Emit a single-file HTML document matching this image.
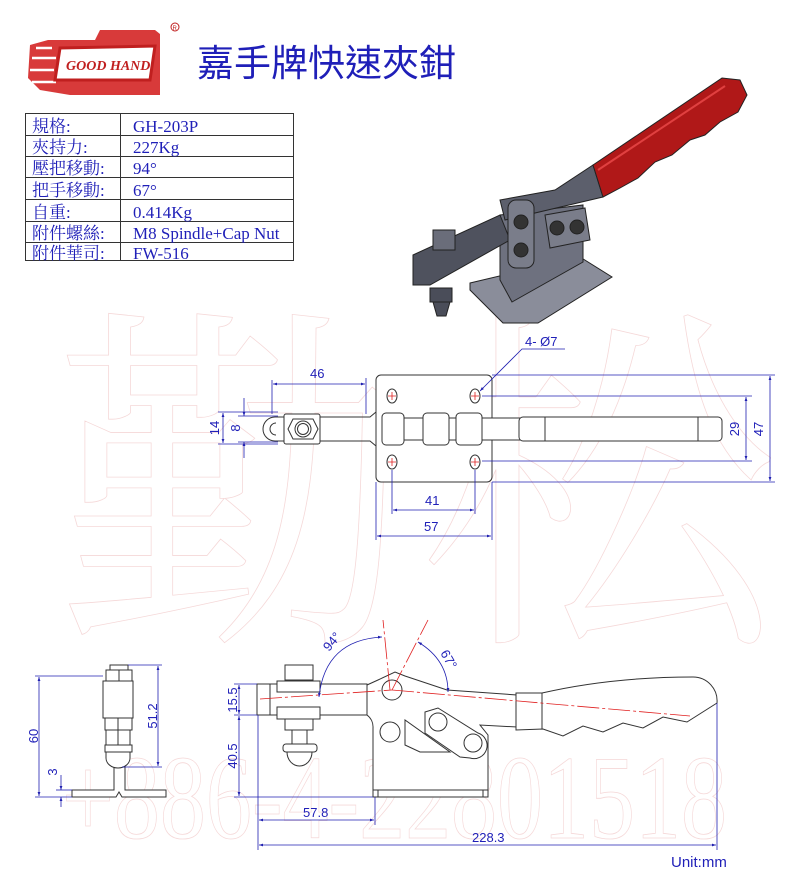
<!DOCTYPE html>
<html><head><meta charset="utf-8"><style>
html,body{margin:0;padding:0;background:#fff;}
svg{display:block;}
</style></head><body>
<svg width="800" height="891" viewBox="0 0 800 891" xmlns="http://www.w3.org/2000/svg">
<defs>
<marker id="a" viewBox="0 0 10 10" refX="10" refY="5" markerWidth="7" markerHeight="5" orient="auto-start-reverse"><path d="M0,1.5 L10,5 L0,8.5z" fill="#1f1fb0"/></marker>
</defs>
<rect width="800" height="891" fill="#fff"/>
<!-- watermarks -->
<g fill="none" stroke="#f5d8d8" stroke-width="0.8" font-family="'Noto Serif CJK SC','Liberation Serif',serif">
<text x="55" y="615" font-size="360">勤</text>
<text x="420" y="615" font-size="360">松</text>
</g>
<text x="62" y="838" font-size="120" textLength="665" lengthAdjust="spacingAndGlyphs" fill="none" stroke="#f5d8d8" stroke-width="0.8" font-family="'Liberation Serif',serif">+886-4-22801518</text>

<!-- logo -->
<g>
<path d="M30,45 L48,40 L95,40 L100,30 L155,30 L160,34 L160,95 L70,95 L40,90 L28,78 Z" fill="#d83a3a"/>
<path d="M36,48 L52,48 M32,58 L56,58 M30,70 L54,70 M32,82 L56,82" stroke="#fff" stroke-width="2.5"/>
<path d="M60,48 L155,46 L150,80 L55,80 Z" fill="#fff" stroke="#c01f1f" stroke-width="3"/>
<text x="66" y="70" font-family="'Liberation Serif',serif" font-style="italic" font-weight="bold" font-size="14" fill="#c01f1f">GOOD HAND</text>
<circle cx="175" cy="27" r="4" fill="none" stroke="#c01f1f" stroke-width="1"/>
<text x="172.5" y="30" font-size="6" fill="#c01f1f" font-family="'Liberation Sans',sans-serif">R</text>
</g>
<text x="197" y="76" font-size="37" fill="#1f1fb8" font-family="'Liberation Sans','Noto Sans CJK TC',sans-serif">嘉手牌快速夾鉗</text>

<!-- table -->
<g stroke="#333" stroke-width="1" fill="none">
<rect x="25.5" y="113.5" width="268" height="147"/>
<line x1="120.5" y1="113" x2="120.5" y2="261"/>
<line x1="25" y1="135.5" x2="293" y2="135.5"/>
<line x1="25" y1="156.5" x2="293" y2="156.5"/>
<line x1="25" y1="177.5" x2="293" y2="177.5"/>
<line x1="25" y1="199.5" x2="293" y2="199.5"/>
<line x1="25" y1="221.5" x2="293" y2="221.5"/>
<line x1="25" y1="242.5" x2="293" y2="242.5"/>
</g>
<g font-size="17" fill="#1f1fb8" font-family="'Liberation Serif','Noto Serif CJK TC',serif">
<text x="32" y="132">規格:</text><text x="133" y="132">GH-203P</text>
<text x="32" y="153">夾持力:</text><text x="133" y="153">227Kg</text>
<text x="32" y="174">壓把移動:</text><text x="133" y="174">94°</text>
<text x="32" y="196">把手移動:</text><text x="133" y="196">67°</text>
<text x="32" y="218">自重:</text><text x="133" y="218">0.414Kg</text>
<text x="32" y="239">附件螺絲:</text><text x="133" y="239">M8 Spindle+Cap Nut</text>
<text x="32" y="259">附件華司:</text><text x="133" y="259">FW-516</text>
</g>

<!-- 3D render -->
<g stroke="#222" stroke-width="1">
<path d="M470,283 L580,257 L612,277 L538,323 L503,323 L470,290Z" fill="#8a8d9a"/>
<path d="M500,215 L583,205 L583,262 L512,302 L500,280Z" fill="#6e717f"/>
<path d="M500,200 L555,190 L593,165 L603,197 L535,213 L505,220Z" fill="#5c5f6c"/>
<path d="M593,165 L722,78 L740,80 L747,95 L738,112 L720,122 L705,135 L690,140 L672,155 L655,162 L638,178 L620,188 L603,197Z" fill="#b01818"/>
<path d="M598,170 L725,86" stroke="#e04040" stroke-width="2"/>
<path d="M413,255 L500,215 L510,240 L430,285 L413,285Z" fill="#4f525e"/>
<rect x="508" y="200" width="26" height="68" rx="8" fill="#7a7d8a"/>
<circle cx="521" cy="222" r="7" fill="#333"/><circle cx="521" cy="250" r="7" fill="#333"/>
<path d="M545,215 L585,208 L590,240 L550,248Z" fill="#7a7d8a"/>
<circle cx="557" cy="228" r="7" fill="#333"/><circle cx="577" cy="227" r="7" fill="#333"/>
<rect x="433" y="230" width="22" height="20" fill="#6a6d7a"/>
<rect x="430" y="288" width="22" height="14" fill="#4a4d59"/>
<path d="M433,302 L450,302 L446,316 L437,316Z" fill="#4a4d59"/>
</g>

<!-- TOP VIEW -->
<g stroke="#333" stroke-width="1" fill="none">
<rect x="376" y="375" width="116" height="107" rx="5" fill="#fff"/>
<path d="M275,417 L370,417 L376,412 M275,441 L370,441 L376,446"/>
<path d="M275,417 A12,12 0 0 0 275,441"/>
<path d="M276,423 A6,6 0 0 0 276,435"/>
<rect x="284" y="414" width="36" height="30" rx="2" fill="#fff"/>
<polygon points="293,419 313,419 318,429 313,439 293,439 288,429" fill="#fff"/>
<circle cx="303" cy="429" r="8"/><circle cx="303" cy="429" r="5.5"/>
<rect x="382" y="418" width="140" height="22" fill="#fff"/>
<rect x="382" y="413" width="22" height="32" rx="4" fill="#fff"/>
<rect x="423" y="413" width="26" height="32" rx="4" fill="#fff"/>
<rect x="456" y="413" width="26" height="32" rx="4" fill="#fff"/>
<rect x="519" y="417" width="203" height="24" rx="4" fill="#fff"/>
<line x1="545" y1="417" x2="545" y2="441"/><line x1="698" y1="417" x2="698" y2="441"/>
</g>
<g fill="none" stroke="#333" stroke-width="1">
<ellipse cx="392" cy="396" rx="5" ry="7"/><ellipse cx="475" cy="396" rx="5" ry="7"/>
<ellipse cx="392" cy="462" rx="5" ry="7"/><ellipse cx="475" cy="462" rx="5" ry="7"/>
</g>
<g stroke="#e02020" stroke-width="0.8">
<path d="M388,396h8M392,392v8M471,396h8M475,392v8M388,462h8M392,458v8M471,462h8M475,458v8"/>
</g>
<g stroke="#1f1fb0" stroke-width="0.8" fill="none">
<line x1="272" y1="380" x2="272" y2="414"/><line x1="366" y1="378" x2="366" y2="414"/>
<line x1="273" y1="384" x2="365" y2="384" marker-start="url(#a)" marker-end="url(#a)"/>
<line x1="218" y1="412" x2="278" y2="412"/><line x1="218" y1="444" x2="278" y2="444"/>
<line x1="223" y1="413" x2="223" y2="443" marker-start="url(#a)" marker-end="url(#a)"/>
<line x1="244" y1="398" x2="244" y2="416" marker-end="url(#a)"/><line x1="244" y1="458" x2="244" y2="442" marker-end="url(#a)"/>
<line x1="238" y1="416" x2="278" y2="416"/><line x1="238" y1="442" x2="278" y2="442"/>
<line x1="492" y1="375" x2="775" y2="375"/><line x1="492" y1="482" x2="775" y2="482"/>
<line x1="770" y1="376" x2="770" y2="481" marker-start="url(#a)" marker-end="url(#a)"/>
<line x1="482" y1="396" x2="752" y2="396"/><line x1="482" y1="461" x2="752" y2="461"/>
<line x1="746" y1="397" x2="746" y2="460" marker-start="url(#a)" marker-end="url(#a)"/>
<line x1="392" y1="470" x2="392" y2="514"/><line x1="475" y1="470" x2="475" y2="514"/>
<line x1="393" y1="510" x2="474" y2="510" marker-start="url(#a)" marker-end="url(#a)"/>
<line x1="376" y1="482" x2="376" y2="540"/><line x1="492" y1="482" x2="492" y2="540"/>
<line x1="377" y1="536" x2="491" y2="536" marker-start="url(#a)" marker-end="url(#a)"/>
<polyline points="565,349 522,349 480,391" marker-end="url(#a)"/>
</g>
<g fill="#1f1fb8" font-family="'Liberation Sans',sans-serif" font-size="13">
<text x="310" y="378">46</text>
<text x="425" y="505">41</text>
<text x="424" y="531">57</text>
<text x="525" y="346">4- Ø7</text>
<text transform="translate(219,428) rotate(-90)" text-anchor="middle">14</text>
<text transform="translate(240,428) rotate(-90)" text-anchor="middle">8</text>
<text transform="translate(739,429) rotate(-90)" text-anchor="middle">29</text>
<text transform="translate(763,429) rotate(-90)" text-anchor="middle">47</text>
</g>

<!-- SIDE VIEW small -->
<g stroke="#333" stroke-width="1" fill="#fff">
<path d="M72,790 L114,790 L114,767 L125,767 L125,790 L166,790 L166,797 L122,797 L119,792 L116,797 L72,797Z"/>
<path d="M106,752 L130,752 L130,758 A12,10 0 0 1 106,758Z"/>
<rect x="105" y="745" width="27" height="7"/>
<rect x="106" y="730" width="24" height="15"/>
<rect x="105" y="718" width="27" height="12"/>
<rect x="103" y="681" width="30" height="37"/>
<rect x="106" y="670" width="26" height="11"/>
<rect x="110" y="665" width="18" height="5"/>
<line x1="119" y1="670" x2="119" y2="681"/><line x1="118" y1="718" x2="118" y2="745"/>
</g>
<g stroke="#1f1fb0" stroke-width="0.8" fill="none">
<line x1="35" y1="676" x2="103" y2="676"/><line x1="35" y1="797" x2="72" y2="797"/>
<line x1="39" y1="677" x2="39" y2="796" marker-start="url(#a)" marker-end="url(#a)"/>
<line x1="128" y1="665" x2="162" y2="665"/><line x1="122" y1="767" x2="162" y2="767"/>
<line x1="158" y1="666" x2="158" y2="766" marker-start="url(#a)" marker-end="url(#a)"/>
<line x1="61" y1="775" x2="61" y2="790" marker-end="url(#a)"/><line x1="61" y1="807" x2="61" y2="797" marker-end="url(#a)"/>
<line x1="56" y1="790" x2="72" y2="790"/>
</g>
<g fill="#1f1fb8" font-family="'Liberation Sans',sans-serif" font-size="13">
<text transform="translate(38,736) rotate(-90)" text-anchor="middle">60</text>
<text transform="translate(157,716) rotate(-90)" text-anchor="middle">51.2</text>
<text transform="translate(57,772) rotate(-90)" text-anchor="middle">3</text>
</g>

<!-- SIDE VIEW main -->
<g stroke="#333" stroke-width="1" fill="#fff">
<rect x="373" y="790" width="115" height="7"/>
<line x1="378" y1="790" x2="378" y2="797"/><line x1="483" y1="790" x2="483" y2="797"/>
<path d="M373,790 L373,728 A15,15 0 0 0 367,715 L367,685 L378,680 L395,672 L405,676 L447,690 L517,695 L517,727 L480,725 L488,735 L488,790Z"/>
<rect x="257" y="684" width="110" height="31"/>
<line x1="270" y1="684" x2="270" y2="715"/>
<circle cx="392" cy="690" r="10"/>
<circle cx="390" cy="732" r="10"/>
<path d="M405,720 L405,745 L420,752 L450,752 Z" fill="none"/>
<path d="M425,712 L438,708 L478,733 A12,12 0 0 1 470,758 L460,757 L425,733 Z"/>
<circle cx="438" cy="722" r="9"/>
<circle cx="473" cy="743" r="9"/>
<rect x="285" y="665" width="28" height="15"/>
<rect x="277" y="681" width="43" height="11"/>
<rect x="277" y="707" width="43" height="12"/>
<rect x="285" y="719" width="28" height="11"/>
<rect x="292" y="730" width="15" height="14"/>
<rect x="283" y="744" width="34" height="8" rx="3"/>
<path d="M287,752 L312,752 A12.5,14 0 0 1 287,752Z"/>
<path d="M516,693 L542,693 C590,682 640,677 693,677 A24,24 0 0 1 717,703 L687,722 L663,717 L643,728 L623,723 L603,732 L583,726 L563,736 L543,729 L516,730Z"/>
<line x1="542" y1="693" x2="542" y2="729"/>
</g>
<g stroke="#e02020" stroke-width="0.8" fill="none" stroke-dasharray="22,3,3,3">
<line x1="260" y1="699" x2="392" y2="690"/>
<line x1="392" y1="690" x2="690" y2="716"/>
<line x1="390" y1="690" x2="383" y2="620"/>
<line x1="392" y1="690" x2="428" y2="620"/>
</g>
<g stroke="#1f1fb0" stroke-width="0.8" fill="none">
<line x1="234" y1="684" x2="257" y2="684"/><line x1="234" y1="715" x2="257" y2="715"/><line x1="234" y1="797" x2="373" y2="797"/>
<line x1="239" y1="685" x2="239" y2="714" marker-start="url(#a)" marker-end="url(#a)"/>
<line x1="239" y1="716" x2="239" y2="796" marker-start="url(#a)" marker-end="url(#a)"/>
<line x1="258" y1="715" x2="258" y2="850"/><line x1="375" y1="797" x2="375" y2="825"/><line x1="717" y1="703" x2="717" y2="850"/>
<line x1="259" y1="820" x2="374" y2="820" marker-start="url(#a)" marker-end="url(#a)"/>
<line x1="259" y1="845" x2="716" y2="845" marker-start="url(#a)" marker-end="url(#a)"/>
<path d="M319,697 Q325,640 382,637" marker-start="url(#a)" marker-end="url(#a)"/>
<path d="M418,642 Q448,660 448,692" marker-start="url(#a)" marker-end="url(#a)"/>
</g>
<g fill="#1f1fb8" font-family="'Liberation Sans',sans-serif" font-size="13">
<text transform="translate(237,700) rotate(-90)" text-anchor="middle">15.5</text>
<text transform="translate(237,756) rotate(-90)" text-anchor="middle">40.5</text>
<text x="303" y="817">57.8</text>
<text x="472" y="842">228.3</text>
<text transform="translate(329,652) rotate(-50)">94°</text>
<text transform="translate(440,653) rotate(60)">67°</text>
<text x="671" y="867" font-size="15">Unit:mm</text>
</g>
</svg>
</body></html>
